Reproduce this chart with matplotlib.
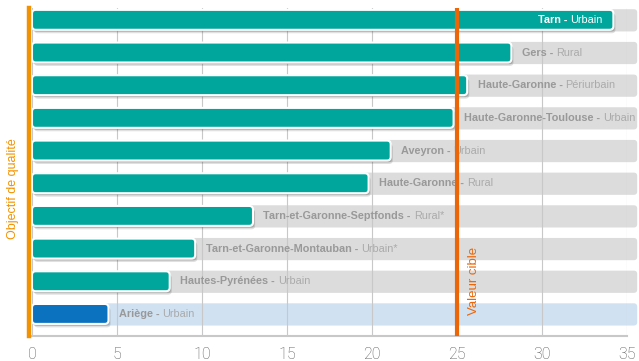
import matplotlib.pyplot as plt
import matplotlib.patheffects as pe
from matplotlib.patches import FancyBboxPatch

# Données par station
regions = ["Tarn", "Gers", "Haute-Garonne", "Haute-Garonne-Toulouse", "Aveyron",
           "Haute-Garonne", "Tarn-et-Garonne-Septfonds", "Tarn-et-Garonne-Montauban",
           "Hautes-Pyrénées", "Ariège"]
types = ["Urbain", "Rural", "Périurbain", "Urbain", "Urbain",
         "Rural", "Rural*", "Urbain*", "Urbain", "Urbain"]
valeurs = [34.2, 28.2, 25.6, 24.8, 21.1, 19.8, 13.0, 9.6, 8.1, 4.5]
ticks = [0, 5, 10, 15, 20, 25, 30, 35]
valeur_cible = 25

teal = "#00a69c"
bleu = "#0a72bf"
gris_bande = "#dcdcdc"
bleu_bande = "#d0e1f2"
orange = "#f39200"
orange_fonce = "#ec6608"
police = ["Liberation Sans", "DejaVu Sans"]
taille = 7.8

fig = plt.figure(figsize=(6.39, 3.61), dpi=100)
ax = fig.add_axes([32 / 639, 1 - 336 / 361, 595 / 639, 328 / 361])
ax.set_xlim(0, 35)
ax.set_ylim(9.67, -0.367)

# rapport d'aspect pour des coins arrondis réguliers
aspect = (1 / 32.67) / (1 / 17.0)

for i, (reg, typ, v) in enumerate(zip(regions, types, valeurs)):
    derniere = i == len(regions) - 1
    # bande de fond
    bande = FancyBboxPatch((0, i - 0.33), 35.6, 0.68,
                           boxstyle="round,pad=0,rounding_size=0.2",
                           mutation_aspect=aspect, fc=bleu_bande if derniere else gris_bande,
                           ec="none", zorder=1, clip_on=False)
    ax.add_patch(bande)
    # barre
    barre = FancyBboxPatch((0, i - 0.31), v, 0.61,
                           boxstyle="round,pad=0,rounding_size=0.22",
                           mutation_aspect=aspect, fc=bleu if derniere else teal,
                           ec="white", lw=1.5, zorder=3)
    barre.set_path_effects([
        pe.SimplePatchShadow(offset=(1.5, -2.5), shadow_rgbFace="#000000", alpha=0.12),
        pe.SimplePatchShadow(offset=(1, -1.5), shadow_rgbFace="#000000", alpha=0.12),
        pe.Normal()])
    ax.add_patch(barre)

    # étiquette : nom en gras + type
    if i == 0:
        t2 = ax.annotate(typ, xy=(v, i), xytext=(-7.5, 0), textcoords="offset points",
                         ha="right", va="center", color="white", fontsize=taille,
                         family=police, zorder=4)
        ax.annotate(reg + " - ", xy=(0, 0), xycoords=t2, ha="right", va="bottom",
                    color="white", fontsize=taille, fontweight="bold", family=police, zorder=4)
    else:
        t1 = ax.annotate(reg + " - ", xy=(v, i), xytext=(7.5, 0), textcoords="offset points",
                         ha="left", va="center", color="#999999", fontsize=taille,
                         fontweight="bold", family=police, zorder=4)
        ax.annotate(typ, xy=(1, 0), xycoords=t1, ha="left", va="bottom",
                    color="#aaaaaa", fontsize=taille, family=police, zorder=4)

# grille et axes
ax.set_axisbelow("line")
ax.grid(axis="x", color="#c8c8c8", lw=0.8)
ax.set_xticks(ticks)
ax.set_yticks([])
ax.tick_params(axis="x", length=0, pad=8, labelsize=11.5, labelcolor="#555555")
for lab in ax.get_xticklabels():
    lab.set_family(["Roboto", "DejaVu Sans"])
    lab.set_fontweight("light")
for s in ["top", "right", "left"]:
    ax.spines[s].set_visible(False)
ax.spines["bottom"].set_color("#c8c8c8")
ax.spines["bottom"].set_linewidth(1.5)

# objectif de qualité (axe gauche)
ax.axvline(-0.15, color=orange, lw=3.2, zorder=6, clip_on=False)
fig.text(13 / 639, 1 - 189 / 361, "Objectif de qualité", rotation=90, ha="center",
         va="center", color=orange, fontsize=9, family=police)

# valeur cible
ax.axvline(valeur_cible, color=orange_fonce, lw=3, zorder=5)
ax.annotate("Valeur cible", xy=(valeur_cible, 0), xycoords=("data", "axes fraction"),
            xytext=(12, 40), textcoords="offset points", rotation=90, ha="center",
            va="center", color=orange_fonce, fontsize=9.5, family=police)

fig.savefig("out.png", dpi=100)
